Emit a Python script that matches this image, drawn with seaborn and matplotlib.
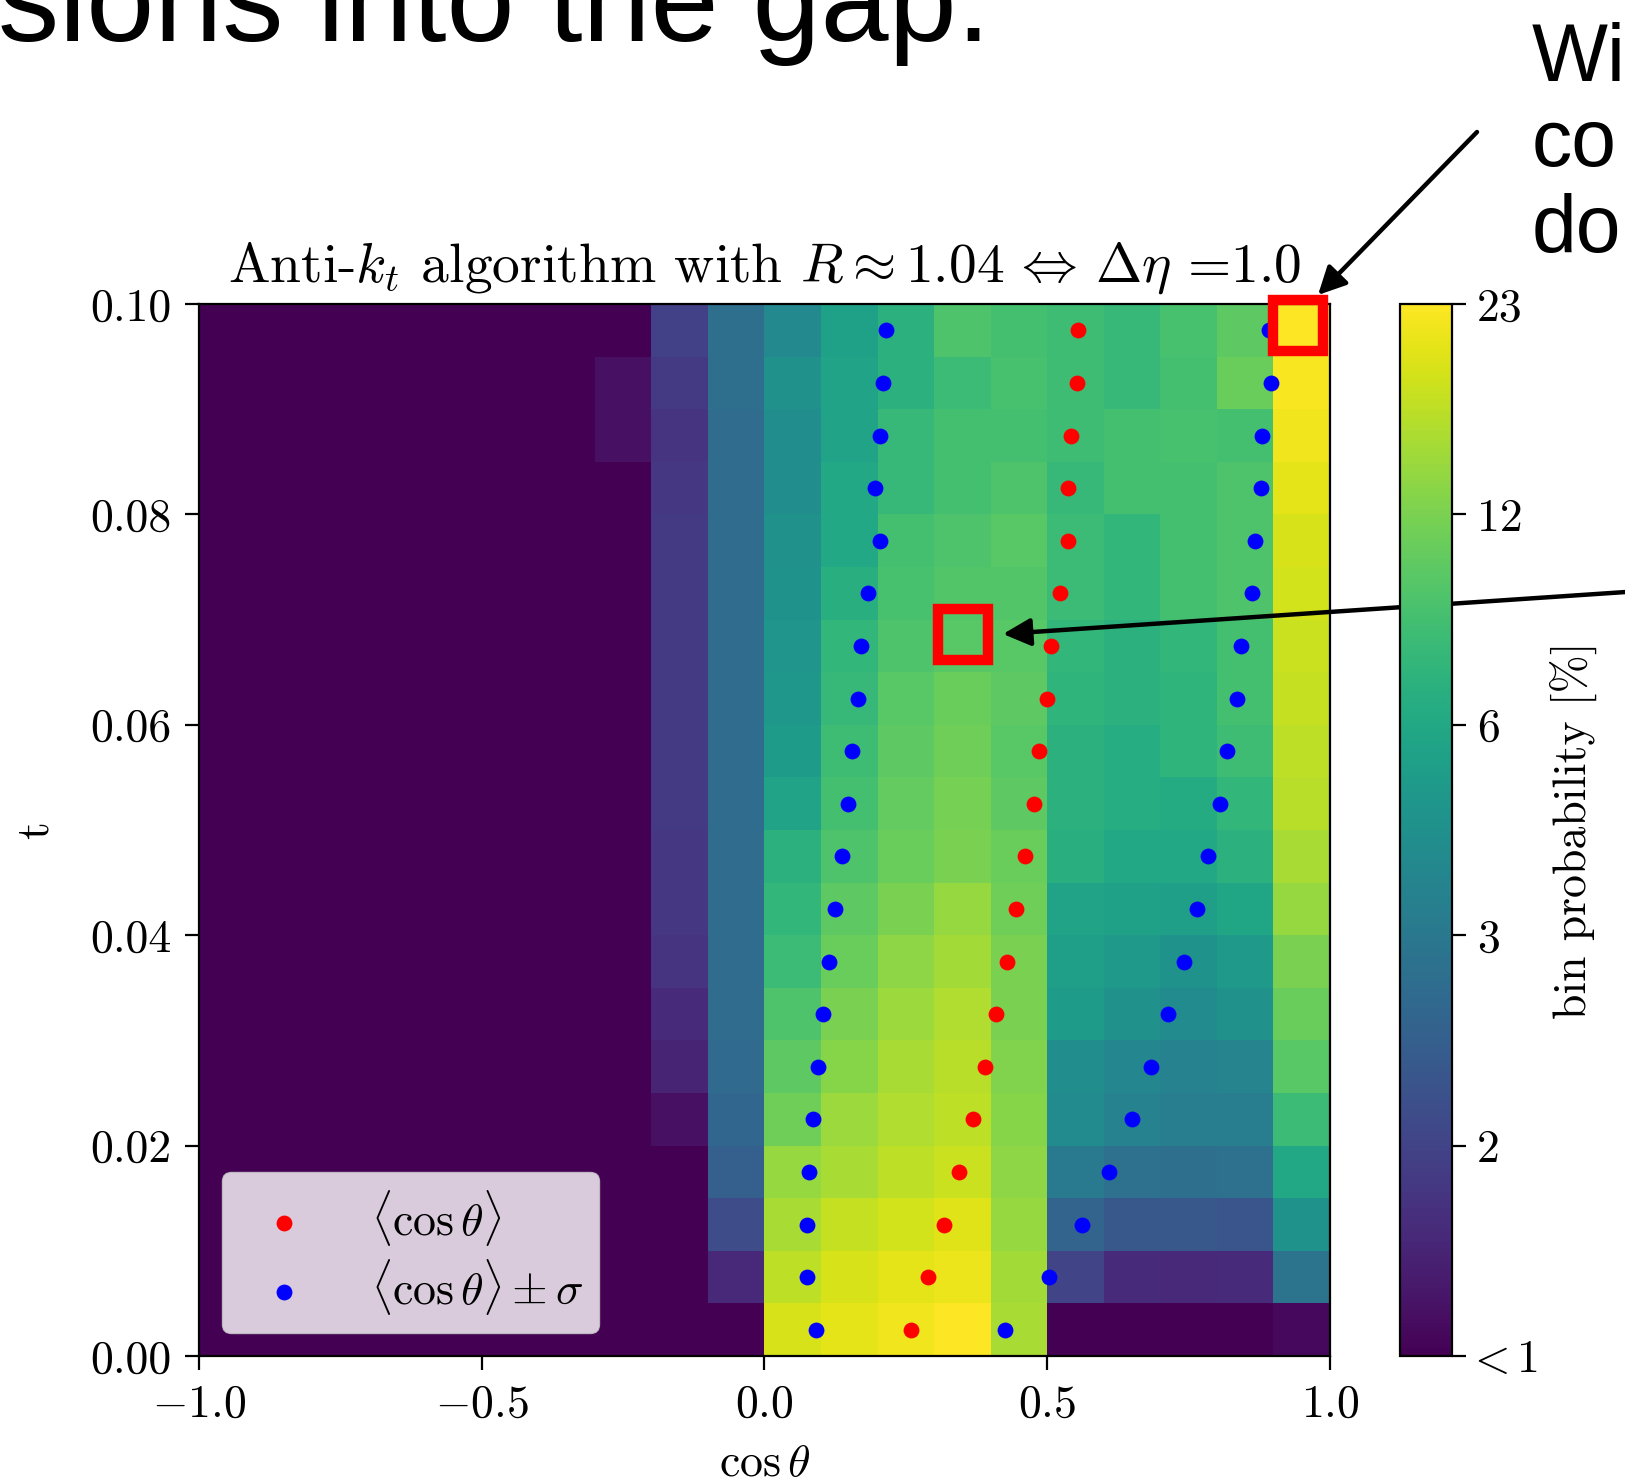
import numpy as np
import pandas as pd
import matplotlib
matplotlib.use("Agg")
import matplotlib.pyplot as plt
import matplotlib.colors as mcolors
from matplotlib.patches import Rectangle
import seaborn as sns

# ---------------- data ----------------
# bin centres
cos_centers = [-0.95, -0.85, -0.75, -0.65, -0.55, -0.45, -0.35, -0.25, -0.15, -0.05,
               0.05, 0.15, 0.25, 0.35, 0.45, 0.55, 0.65, 0.75, 0.85, 0.95]
t_centers = [0.0025, 0.0075, 0.0125, 0.0175, 0.0225, 0.0275, 0.0325, 0.0375, 0.0425, 0.0475,
             0.0525, 0.0575, 0.0625, 0.0675, 0.0725, 0.0775, 0.0825, 0.0875, 0.0925, 0.0975]
cos_min, cos_bin = -1.0, 0.1
t_min, t_bin = 0.0, 0.005

# bin probability [%], rows from t=0 (bottom) to t=0.1 (top)
prob_rows = [
    [0.5, 0.5, 0.5, 0.5, 0.5, 0.5, 0.5, 0.5, 0.5, 0.5, 19.7, 20.8, 21.9, 23.0, 15.9, 0.5, 0.5, 0.5, 0.5, 1.1],
    [0.5, 0.5, 0.5, 0.5, 0.5, 0.5, 0.5, 0.5, 0.5, 1.55, 17.5, 19.7, 20.8, 21.4, 15.3, 2.0, 1.6, 1.55, 1.6, 2.9],
    [0.5, 0.5, 0.5, 0.5, 0.5, 0.5, 0.5, 0.5, 0.5, 2.15, 15.9, 18.1, 19.2, 20.3, 14.2, 2.6, 2.35, 2.35, 2.3, 4.65],
    [0.5, 0.5, 0.5, 0.5, 0.5, 0.5, 0.5, 0.5, 0.5, 2.5, 14.2, 15.9, 17.5, 18.6, 13.7, 3.15, 2.85, 2.8, 2.85, 6.0],
    [0.5, 0.5, 0.5, 0.5, 0.5, 0.5, 0.5, 0.5, 1.2, 2.65, 11.4, 14.8, 16.4, 17.5, 13.1, 4.2, 3.6, 3.3, 3.3, 8.4],
    [0.5, 0.5, 0.5, 0.5, 0.5, 0.5, 0.5, 0.5, 1.5, 2.7, 10.5, 13.1, 15.9, 17.0, 12.6, 4.35, 3.9, 3.6, 3.75, 10.2],
    [0.5, 0.5, 0.5, 0.5, 0.5, 0.5, 0.5, 0.5, 1.6, 2.75, 9.6, 12.0, 14.8, 16.4, 12.0, 5.25, 4.5, 4.2, 4.5, 11.1],
    [0.5, 0.5, 0.5, 0.5, 0.5, 0.5, 0.5, 0.5, 1.75, 2.75, 8.4, 11.1, 13.7, 15.3, 12.0, 5.4, 5.1, 4.65, 5.1, 12.0],
    [0.5, 0.5, 0.5, 0.5, 0.5, 0.5, 0.5, 0.5, 1.8, 2.75, 7.8, 10.5, 12.0, 14.2, 11.4, 5.7, 5.55, 5.4, 5.85, 14.2],
    [0.5, 0.5, 0.5, 0.5, 0.5, 0.5, 0.5, 0.5, 1.8, 2.75, 7.2, 9.6, 11.1, 12.0, 11.1, 6.9, 6.0, 6.0, 7.2, 15.9],
    [0.5, 0.5, 0.5, 0.5, 0.5, 0.5, 0.5, 0.5, 1.85, 2.75, 5.7, 9.0, 10.8, 11.7, 10.5, 7.2, 6.6, 6.3, 7.8, 17.0],
    [0.5, 0.5, 0.5, 0.5, 0.5, 0.5, 0.5, 0.5, 1.85, 2.75, 5.25, 8.7, 10.5, 11.4, 10.2, 7.2, 6.6, 7.5, 8.7, 17.5],
    [0.5, 0.5, 0.5, 0.5, 0.5, 0.5, 0.5, 0.5, 1.85, 2.75, 4.95, 8.1, 10.2, 11.1, 10.5, 7.5, 7.2, 7.5, 9.0, 18.1],
    [0.5, 0.5, 0.5, 0.5, 0.5, 0.5, 0.5, 0.5, 1.85, 2.75, 4.8, 7.8, 9.6, 10.2, 10.2, 7.8, 7.2, 7.8, 9.0, 18.6],
    [0.5, 0.5, 0.5, 0.5, 0.5, 0.5, 0.5, 0.5, 1.85, 2.75, 4.65, 6.9, 9.3, 9.9, 9.9, 8.4, 7.8, 9.0, 9.6, 19.2],
    [0.5, 0.5, 0.5, 0.5, 0.5, 0.5, 0.5, 0.5, 1.85, 2.75, 4.5, 6.0, 9.0, 9.6, 10.2, 8.4, 7.8, 9.0, 9.6, 19.7],
    [0.5, 0.5, 0.5, 0.5, 0.5, 0.5, 0.5, 0.5, 1.8, 2.75, 4.35, 6.0, 8.1, 9.0, 9.6, 8.1, 9.0, 9.0, 9.6, 20.8],
    [0.5, 0.5, 0.5, 0.5, 0.5, 0.5, 0.5, 1.2, 1.75, 2.75, 4.35, 5.7, 8.1, 9.0, 9.0, 8.7, 9.0, 9.3, 9.0, 21.9],
    [0.5, 0.5, 0.5, 0.5, 0.5, 0.5, 0.5, 1.2, 1.85, 2.8, 4.5, 5.7, 7.2, 8.4, 9.3, 8.7, 8.1, 9.0, 11.1, 22.5],
    [0.5, 0.5, 0.5, 0.5, 0.5, 0.5, 0.5, 0.5, 1.95, 2.8, 4.05, 5.55, 7.2, 9.6, 9.0, 8.7, 8.1, 9.3, 10.5, 23.0],
]

# <cos theta> and <cos theta> +- sigma per t bin (bottom to top)
mean_cos = [0.259, 0.289, 0.318, 0.344, 0.368, 0.390, 0.409, 0.428, 0.445, 0.461,
            0.477, 0.486, 0.500, 0.506, 0.522, 0.536, 0.537, 0.542, 0.552, 0.554]
lower_cos = [0.091, 0.076, 0.075, 0.079, 0.085, 0.095, 0.104, 0.114, 0.125, 0.137,
             0.147, 0.155, 0.165, 0.171, 0.183, 0.204, 0.196, 0.204, 0.210, 0.214]
upper_cos = [0.426, 0.503, 0.562, 0.610, 0.650, 0.684, 0.714, 0.742, 0.764, 0.785,
             0.806, 0.818, 0.835, 0.842, 0.862, 0.868, 0.878, 0.880, 0.895, 0.893]

xtick_values = [-1.0, -0.5, 0.0, 0.5, 1.0]
xtick_labels = [r"$-1.0$", r"$-0.5$", r"$0.0$", r"$0.5$", r"$1.0$"]
ytick_values = [0.00, 0.02, 0.04, 0.06, 0.08, 0.10]
ytick_labels = ["0.00", "0.02", "0.04", "0.06", "0.08", "0.10"]
cbar_tick_values = [1, 2, 3, 6, 12, 23]
cbar_tick_labels = [r"$\!\!\!<1$", "2", "3", "6", "12", "23"]
cbar_positions = [0.0, 0.2, 0.4, 0.6, 0.8, 1.0]

# highlighted cells (cos range, t range)
highlight_boxes = [((0.9, 0.0955), (0.0875, 0.00485)), ((0.3074, 0.0662), (0.0875, 0.00485))]

# ---------------- style ----------------
plt.rcParams.update({
    "font.family": "serif",
    "font.serif": ["cmr10"],
    "mathtext.fontset": "cm",
    "axes.formatter.use_mathtext": True,
    "axes.unicode_minus": False,
})

FS = 33
W, H = 1625, 1483
fig = plt.figure(figsize=(W / 100, H / 100), dpi=100)
ax = fig.add_axes([199 / W, 1 - 1356 / H, 1131 / W, 1052 / H])
cax = fig.add_axes([1400 / W, 1 - 1356 / H, 52 / W, 1052 / H])


def fwd(v):
    return np.interp(v, cbar_tick_values, cbar_positions)


def inv(p):
    return np.interp(p, cbar_positions, cbar_tick_values)


norm = mcolors.FuncNorm((fwd, inv), vmin=1, vmax=23)

df = pd.DataFrame(prob_rows, index=t_centers, columns=cos_centers)
sns.heatmap(df, ax=ax, cbar_ax=cax, cmap="viridis", norm=norm,
            xticklabels=False, yticklabels=False)
ax.set_xlim(0, len(cos_centers))
ax.set_ylim(0, len(t_centers))


def to_x(c):
    return (np.asarray(c, dtype=float) - cos_min) / cos_bin


def to_y(t):
    return (np.asarray(t, dtype=float) - t_min) / t_bin


sns.scatterplot(x=to_x(mean_cos), y=to_y(t_centers), color="red", s=130,
                linewidth=0, ax=ax, zorder=3, label=r"$\langle\cos\theta\rangle$")
sns.scatterplot(x=to_x(lower_cos + upper_cos), y=to_y(t_centers + t_centers),
                color="blue", s=130, linewidth=0, ax=ax, zorder=3,
                label=r"$\langle\cos\theta\rangle\pm\sigma$")

for s in ax.spines.values():
    s.set_visible(True)
    s.set_linewidth(1.6)
    s.set_color("black")

ax.set_xticks(to_x(xtick_values))
ax.set_xticklabels(xtick_labels, rotation=0)
ax.set_yticks(to_y(ytick_values))
ax.set_yticklabels(ytick_labels, rotation=0)
ax.tick_params(direction="out", length=10, width=1.6, labelsize=FS,
               bottom=True, left=True, top=False, right=False, pad=10)
ax.set_xlabel(r"$\cos\theta$", fontsize=FS, labelpad=13)
ax.set_ylabel("t", fontsize=FS, labelpad=24)
ax.xaxis.label.set_visible(True)
ax.yaxis.label.set_visible(True)
ax.set_title(r"Anti-$k_t$ algorithm with $R\approx$1.04$\,\Leftrightarrow\,\Delta\eta$ =1.0",
             fontsize=40, pad=16)

leg = ax.legend(loc="lower left", fontsize=FS, borderaxespad=0.5, framealpha=0.8,
                labelspacing=0.2, handletextpad=0.9, borderpad=0.35)

cb = ax.collections[0].colorbar
cb.set_ticks(cbar_tick_values)
cb.set_ticklabels(cbar_tick_labels)
cb.ax.minorticks_off()
cb.ax.tick_params(labelsize=FS, length=10, width=1.6, direction="out", pad=8)
cb.outline.set_linewidth(1.6)
cb.outline.set_edgecolor("black")
cb.set_label("bin probability [%]", fontsize=FS, labelpad=8)

for (c0, t0), (w, h) in highlight_boxes:
    ax.add_patch(Rectangle((to_x(c0), to_y(t0)), w / cos_bin, h / t_bin,
                           fill=False, edgecolor="red", linewidth=7.5,
                           clip_on=False, zorder=6))

# slide annotations
fig.text(990 / W, 1 - 41 / H, "sions into the gap.", ha="right", va="baseline",
         fontsize=88, family="Liberation Sans")
for txt, yb in [("Wit", 81), ("co", 166), ("do", 252)]:
    fig.text(1532 / W, 1 - yb / H, txt, ha="left", va="baseline",
             fontsize=58, family="Liberation Sans")

arrow_kw = dict(arrowstyle="-|>", color="black", lw=3.2, mutation_scale=42,
                shrinkA=0, shrinkB=0)
ax.annotate("", xy=(1318 / W, 1 - 295 / H), xycoords="figure fraction",
            xytext=(1477 / W, 1 - 132 / H), textcoords="figure fraction",
            arrowprops=arrow_kw, annotation_clip=False, zorder=10)
ax.annotate("", xy=(1003 / W, 1 - 634 / H), xycoords="figure fraction",
            xytext=(1700 / W, 1 - 587 / H), textcoords="figure fraction",
            arrowprops=arrow_kw, annotation_clip=False, zorder=10)

fig.savefig("out.png", dpi=100)
